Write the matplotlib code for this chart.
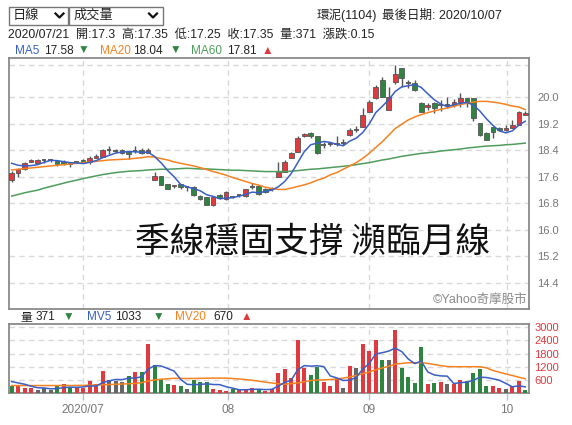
import numpy as np
import pandas as pd
import matplotlib
matplotlib.use("Agg")
import matplotlib.pyplot as plt
from matplotlib.patches import Rectangle
from matplotlib.lines import Line2D

plt.rcParams['font.family'] = ['Liberation Sans', 'Noto Sans CJK TC', 'DejaVu Sans']

# trading days 2020/06/12 - 2020/10/07 (TWSE holidays removed)
holidays = ['2020-06-25', '2020-06-26', '2020-10-01', '2020-10-02']
dates = pd.bdate_range('2020-06-12', '2020-10-07')
dates = dates[~dates.isin(pd.to_datetime(holidays))]

opens = [17.50, 17.72, 17.82, 18.05, 18.02, 18.10, 18.11, 18.07, 18.05, 18.01,
         18.04, 18.11, 18.05, 18.17, 18.19, 18.39, 18.38, 18.41, 18.35, 18.38,
         18.41, 18.31, 17.51, 17.61, 17.37, 17.30, 17.37, 17.29, 17.27, 17.01,
         16.97, 16.73, 17.05, 16.91, 16.97, 17.03, 17.01, 17.29, 17.31, 17.23,
         17.23, 17.59, 17.75, 18.17, 18.35, 18.81, 18.93, 18.81, 18.55, 18.59,
         18.61, 18.61, 18.85, 19.01, 19.11, 19.55, 19.97, 20.51, 19.61, 20.45,
         20.87, 20.41, 20.41, 19.81, 19.71, 19.81, 19.77, 19.77, 19.77, 19.85,
         19.97, 19.97, 19.21, 18.93, 19.11, 19.07, 19.01, 19.07, 19.15, 19.47]
highs = [17.77, 17.87, 18.05, 18.12, 18.12, 18.13, 18.13, 18.09, 18.11, 18.05,
         18.06, 18.13, 18.21, 18.29, 18.43, 18.51, 18.43, 18.43, 18.37, 18.51,
         18.45, 18.47, 17.75, 17.61, 17.37, 17.35, 17.39, 17.31, 17.31, 17.05,
         16.99, 16.99, 17.07, 17.15, 17.01, 17.05, 17.23, 17.41, 17.33, 17.25,
         17.29, 18.05, 18.09, 18.33, 18.81, 18.93, 18.95, 18.83, 18.63, 18.63,
         18.81, 18.73, 19.07, 19.13, 19.67, 19.91, 20.37, 20.61, 20.31, 20.97,
         20.87, 20.51, 20.51, 19.85, 19.81, 19.85, 19.91, 19.99, 19.93, 20.11,
         19.97, 19.97, 19.21, 18.95, 19.11, 19.09, 19.15, 19.31, 19.57, 19.57]
lows = [17.45, 17.60, 17.79, 18.03, 18.00, 18.02, 18.05, 17.93, 17.95, 17.89,
        18.01, 18.00, 17.99, 18.17, 18.19, 18.27, 18.31, 18.29, 18.13, 18.31,
        18.27, 18.31, 17.51, 17.35, 17.21, 17.25, 17.23, 17.15, 17.01, 16.89,
        16.73, 16.71, 16.93, 16.89, 16.95, 16.99, 16.99, 17.23, 17.05, 17.11,
        17.17, 17.59, 17.75, 18.15, 18.35, 18.79, 18.75, 18.29, 18.45, 18.51,
        18.51, 18.55, 18.81, 18.95, 19.11, 19.55, 19.95, 19.99, 19.61, 20.39,
        20.31, 20.27, 20.17, 19.55, 19.61, 19.51, 19.59, 19.67, 19.71, 19.71,
        19.71, 19.27, 18.83, 18.69, 18.75, 18.99, 18.99, 19.07, 19.15, 19.47]
closes = [17.72, 17.82, 18.02, 18.11, 18.11, 18.10, 18.11, 17.97, 17.97, 17.97,
          18.04, 18.01, 18.17, 18.22, 18.41, 18.39, 18.38, 18.31, 18.27, 18.38,
          18.31, 18.41, 17.61, 17.35, 17.21, 17.35, 17.27, 17.29, 17.05, 16.91,
          16.75, 16.99, 16.95, 17.13, 16.97, 17.03, 17.21, 17.29, 17.07, 17.13,
          17.23, 17.75, 18.05, 18.31, 18.77, 18.87, 18.81, 18.31, 18.55, 18.59,
          18.57, 18.61, 19.01, 19.01, 19.47, 19.85, 20.29, 19.99, 20.01, 20.71,
          20.57, 20.41, 20.21, 19.55, 19.77, 19.67, 19.77, 19.77, 19.85, 19.97,
          19.85, 19.37, 18.85, 18.71, 18.95, 19.01, 19.07, 19.17, 19.55, 19.53]

ma5 = [18.00, 17.94, 17.92, 17.93, 17.96, 18.03, 18.09, 18.08, 18.05, 18.02,
       18.01, 17.99, 18.03, 18.08, 18.17, 18.24, 18.31, 18.34, 18.35, 18.35,
       18.33, 18.34, 18.20, 18.01, 17.78, 17.59, 17.36, 17.29, 17.23, 17.17,
       17.05, 17.00, 16.93, 16.95, 16.96, 17.01, 17.06, 17.13, 17.11, 17.15,
       17.19, 17.29, 17.45, 17.69, 18.02, 18.35, 18.56, 18.61, 18.66, 18.63,
       18.57, 18.53, 18.67, 18.76, 18.93, 19.19, 19.53, 19.72, 19.92, 20.17,
       20.31, 20.34, 20.38, 20.29, 20.10, 19.92, 19.79, 19.71, 19.77, 19.81,
       19.84, 19.76, 19.58, 19.35, 19.15, 18.98, 18.92, 18.98, 19.15, 19.27]
ma20 = [17.80, 17.82, 17.84, 17.86, 17.88, 17.90, 17.92, 17.94, 17.96, 17.98,
        18.00, 18.02, 18.04, 18.06, 18.08, 18.10, 18.11, 18.12, 18.13, 18.15,
        18.17, 18.20, 18.19, 18.14, 18.10, 18.04, 18.00, 17.96, 17.92, 17.87,
        17.81, 17.75, 17.70, 17.64, 17.57, 17.51, 17.45, 17.39, 17.34, 17.28,
        17.24, 17.21, 17.21, 17.25, 17.30, 17.35, 17.41, 17.49, 17.55, 17.65,
        17.72, 17.82, 17.92, 18.02, 18.15, 18.30, 18.48, 18.65, 18.85, 19.05,
        19.18, 19.31, 19.40, 19.47, 19.53, 19.58, 19.63, 19.67, 19.72, 19.77,
        19.81, 19.85, 19.87, 19.87, 19.85, 19.82, 19.78, 19.73, 19.70, 19.62]
ma60 = [17.01, 17.06, 17.11, 17.15, 17.19, 17.25, 17.30, 17.35, 17.40, 17.45,
        17.49, 17.54, 17.58, 17.62, 17.66, 17.69, 17.72, 17.74, 17.76, 17.77,
        17.78, 17.80, 17.81, 17.82, 17.82, 17.83, 17.84, 17.85, 17.84, 17.83,
        17.83, 17.82, 17.81, 17.80, 17.79, 17.79, 17.78, 17.77, 17.76, 17.75,
        17.75, 17.75, 17.75, 17.76, 17.78, 17.80, 17.82, 17.83, 17.85, 17.87,
        17.89, 17.91, 17.93, 17.96, 17.99, 18.02, 18.06, 18.10, 18.13, 18.17,
        18.21, 18.24, 18.27, 18.30, 18.32, 18.34, 18.37, 18.39, 18.41, 18.43,
        18.46, 18.48, 18.50, 18.52, 18.53, 18.54, 18.56, 18.57, 18.59, 18.61]

volume = [308, 308, 246, 215, 123, 246, 123, 308, 430, 215,
          215, 215, 538, 400, 1000, 615, 538, 492, 769, 969,
          969, 2250, 1300, 660, 420, 371, 338, 185, 585, 492,
          492, 185, 154, 92, 185, 123, 185, 246, 123, 92,
          185, 923, 1085, 677, 2430, 1138, 800, 1169, 492, 308,
          677, 215, 1231, 1138, 2215, 1938, 2400, 1508, 1508, 2892,
          1138, 708, 461, 2092, 400, 461, 492, 400, 400, 615,
          554, 923, 1108, 338, 338, 215, 185, 338, 554, 120]
# 1 = up (red), -1 = down (green), 0 = flat (gray)
vol_dir = [-1, 1, 1, 1, 0, 0, 0, -1, 1, -1,
           1, 1, 1, 1, 1, 0, 0, 0, -1, 1,
           -1, 1, -1, -1, -1, 1, -1, 0, -1, -1,
           -1, 1, 1, 1, -1, 1, 1, 1, -1, 1,
           1, 1, 1, 1, 1, 1, -1, -1, 1, 1,
           1, 0, 1, 0, 1, 1, 1, -1, 0, 1,
           -1, -1, -1, -1, 1, -1, 1, 0, 1, 1,
           -1, -1, -1, -1, 1, 1, 0, 1, 1, -1]
mv5 = [520, 460, 400, 310, 240, 228, 191, 203, 246, 264,
       258, 277, 323, 317, 474, 554, 618, 609, 683, 677,
       747, 1090, 1251, 1230, 1120, 1000, 618, 395, 380, 394,
       418, 388, 382, 283, 222, 148, 148, 166, 172, 154,
       166, 314, 482, 592, 1060, 1251, 1226, 1243, 1206, 781,
       689, 572, 585, 714, 1095, 1347, 1784, 1840, 1914, 2049,
       1889, 1551, 1341, 1458, 960, 824, 781, 769, 431, 474,
       492, 578, 720, 708, 652, 584, 437, 283, 326, 282]
mv20 = [340, 340, 340, 340, 340, 340, 340, 340, 340, 340,
        345, 350, 355, 365, 375, 385, 400, 410, 420, 440,
        470, 550, 600, 630, 650, 670, 665, 660, 665, 670,
        675, 680, 680, 677, 660, 640, 615, 580, 540, 495,
        460, 420, 400, 430, 460, 510, 570, 590, 600, 615,
        640, 680, 730, 800, 880, 960, 1060, 1140, 1220, 1320,
        1350, 1380, 1380, 1390, 1350, 1300, 1250, 1210, 1200, 1200,
        1200, 1200, 1200, 1150, 1030, 950, 870, 800, 720, 650]

price_ticks = [14.4, 15.2, 16.0, 16.8, 17.6, 18.4, 19.2, 20.0]
vol_ticks = [600, 1200, 1800, 2400, 3000]
month_starts = ['2020-07-01', '2020-08-01', '2020-09-01', '2020-10-01']
month_labels = ['2020/07', '08', '09', '10']

RED = '#e0393e'
GREEN = '#2e8540'
GRAY = '#666666'
EDGE = '#555555'
BLUE_L = '#3a5fc4'
ORANGE_L = '#f58220'
GREEN_L = '#4f9d5c'
GRID = '#d9d9d9'
SPINE = '#8a8a8a'

W, H = 572, 425
fig = plt.figure(figsize=(W / 100, H / 100), dpi=100)


def px_axes(l, t, r, b):
    return fig.add_axes([l / W, 1 - b / H, (r - l) / W, (b - t) / H])


def ftext(xp, yp, s, color='#222222', size=8.5, ha='left', **kw):
    fig.text(xp / W, 1 - yp / H, s, color=color, fontsize=size, ha=ha, va='center', **kw)


x = np.arange(len(dates))
o = np.array(opens)
c = np.array(closes)

# month ticks placed by calendar date between trading days
day_num = [d.toordinal() for d in dates]
tick_pos = np.interp([pd.Timestamp(m).toordinal() for m in month_starts], day_num, x)

# ---- price panel
ax = px_axes(9, 58, 529, 309)
ax.vlines(x, lows, highs, color=EDGE, lw=1, zorder=2)
flat = np.isclose(c, o)
body_col = np.where(c > o, RED, GREEN)
ax.bar(x[~flat], (c - o)[~flat], bottom=o[~flat], width=0.7,
       color=body_col[~flat], edgecolor=EDGE, linewidth=0.6, zorder=3)
ax.hlines(o[flat], x[flat] - 0.35, x[flat] + 0.35, color=EDGE, lw=1.3, zorder=3)
ax.plot(x, ma60, color=GREEN_L, lw=1.1, zorder=4)
ax.plot(x, ma20, color=ORANGE_L, lw=1.1, zorder=4)
ax.plot(x, ma5, color=BLUE_L, lw=1.1, zorder=4)

ax.set_xlim(-0.41, 79.57)
ax.set_ylim(13.6, 21.18)
ax.yaxis.tick_right()
ax.set_yticks(price_ticks)
ax.set_yticklabels([f'{v:.1f}' for v in price_ticks])
ax.set_xticks(tick_pos)
ax.tick_params(axis='x', length=0, labelbottom=False)
ax.tick_params(axis='y', length=0, pad=6, labelsize=8, labelcolor='#777777')
ax.grid(True, color=GRID, lw=1, linestyle=(0, (4, 3)), zorder=0)
ax.axhline(20.97, color=GRID, lw=1, linestyle=(0, (4, 3)), zorder=0)
for s in ax.spines.values():
    s.set_color(SPINE)
    s.set_linewidth(1.3)
ax.text(0.584, 0.267, '季線穩固支撐 瀕臨月線', transform=ax.transAxes,
        ha='center', va='center', fontsize=25, color='#111111',
        family=['Noto Sans CJK TC', 'DejaVu Sans'])
ax.text(0.996, 0.035, '©Yahoo奇摩股市', transform=ax.transAxes, ha='right',
        va='center', fontsize=9, color='#8a8a8a')

# ---- volume panel
axv = px_axes(9, 324, 529, 393)
vcol = [{1: RED, -1: GREEN, 0: GRAY}[d] for d in vol_dir]
axv.bar(x, volume, width=0.62, color=vcol, zorder=3)
axv.plot(x, mv20, color=ORANGE_L, lw=1.1, zorder=4)
axv.plot(x, mv5, color=BLUE_L, lw=1.1, zorder=4)
axv.set_xlim(-0.41, 79.57)
axv.set_ylim(0, 3150)
axv.yaxis.tick_right()
axv.set_yticks(vol_ticks)
axv.set_yticklabels([str(v) for v in vol_ticks])
axv.set_xticks(tick_pos)
axv.set_xticklabels(month_labels)
axv.tick_params(axis='y', length=0, pad=4, labelsize=8, labelcolor='#e0393e')
axv.tick_params(axis='x', length=5, width=1, color='#b8c0cc', pad=3,
                labelsize=8.5, labelcolor='#777777')
axv.grid(True, color=GRID, lw=1, linestyle=(0, (4, 3)), zorder=0)
for s in axv.spines.values():
    s.set_color(SPINE)
    s.set_linewidth(1.3)

# ---- header
for (l, r) in [(9, 68), (69, 163)]:
    fig.add_artist(Rectangle((l / W, 1 - 25 / H), (r - l) / W, 18 / H,
                             transform=fig.transFigure, fill=False,
                             edgecolor='#767676', lw=1))
for cx in [59.5, 153]:
    fig.add_artist(Line2D([(cx - 4) / W, cx / W, (cx + 4) / W],
                          [1 - 13.5 / H, 1 - 17.5 / H, 1 - 13.5 / H],
                          transform=fig.transFigure, color='#111111', lw=1.6))
ftext(13, 16, '日線', size=9.5)
ftext(74, 16, '成交量', size=9.5)
ftext(317, 15.5, '環泥(1104)', size=9)
ftext(502, 15.5, '最後日期: 2020/10/07', size=9, ha='right')
ftext(8, 34.5, '2020/07/21  開:17.3  高:17.35  低:17.25  收:17.35  量:371  漲跌:0.15', size=8.8)

ftext(15, 50.5, 'MA5', BLUE_L)
ftext(44, 50.5, '17.58')
ftext(78, 50.5, '▼', GREEN)
ftext(100, 50.5, 'MA20', ORANGE_L)
ftext(133, 50.5, '18.04')
ftext(170, 50.5, '▼', GREEN)
ftext(191, 50.5, 'MA60', GREEN_L)
ftext(227, 50.5, '17.81')
ftext(262, 50.5, '▲', RED)

ftext(20, 317.5, '量')
ftext(36, 317.5, '371')
ftext(63, 317.5, '▼', GREEN)
ftext(87, 317.5, 'MV5', BLUE_L)
ftext(115, 317.5, '1033')
ftext(153, 317.5, '▼', GREEN)
ftext(175, 317.5, 'MV20', ORANGE_L)
ftext(213, 317.5, '670')
ftext(241, 317.5, '▲', RED)

fig.savefig('out.png', dpi=100)
